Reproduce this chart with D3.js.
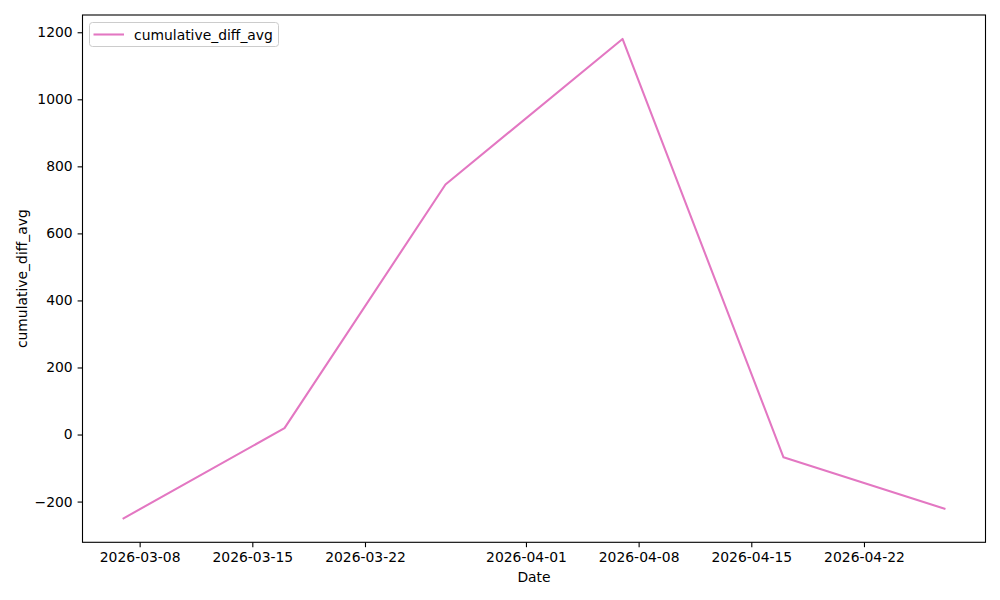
<!DOCTYPE html>
<html><head><meta charset="utf-8">
<script src="https://cdn.jsdelivr.net/npm/d3@7"></script>
<style>body{margin:0;background:#fff}svg{display:block}text{font-family:"DejaVu Sans",sans-serif}</style>
</head><body>
<svg id="c" width="1000" height="600"></svg>
<script>
const dates = ["2026-03-07","2026-03-17","2026-03-27","2026-04-07","2026-04-17","2026-04-27"];
const values = [-250, 19, 746, 1180, -68, -221];
const xTickLabels = ["2026-03-08","2026-03-15","2026-03-22","2026-04-01","2026-04-08","2026-04-15","2026-04-22"];
const yTicks = [-200, 0, 200, 400, 600, 800, 1000, 1200];
const seriesName = "cumulative_diff_avg";

const parse = d3.utcParse("%Y-%m-%d");
const data = dates.map((d,i)=>({x:parse(d), y:values[i]}));
const svg = d3.select("#c");
const L=82.5, R=985.5, T=15, B=542.3;
const fs = 13.9;

const xExt = d3.extent(data, d=>d.x);
const xs = (xExt[1]-xExt[0]);
const x = d3.scaleUtc().domain([new Date(+xExt[0]-0.05*xs), new Date(+xExt[1]+0.05*xs)]).range([L,R]);
const yExt = d3.extent(values);
const ys = yExt[1]-yExt[0];
const y = d3.scaleLinear().domain([yExt[0]-0.05*ys, yExt[1]+0.05*ys]).range([B,T]);

const xAxis = d3.axisBottom(x).tickValues(xTickLabels.map(parse)).tickFormat(d3.utcFormat("%Y-%m-%d")).tickSizeInner(4.9).tickSizeOuter(0).tickPadding(4.9);
const gx = svg.append("g").attr("transform",`translate(0,${B})`).call(xAxis);
const yAxis = d3.axisLeft(y).tickValues(yTicks).tickFormat(d=>d<0?"\u2212"+Math.abs(d):d).tickSizeInner(4.9).tickSizeOuter(0).tickPadding(4.9);
const gy = svg.append("g").attr("transform",`translate(${L},0)`).call(yAxis);
[gx,gy].forEach(g=>{
  g.select(".domain").remove();
  g.selectAll("line").attr("stroke","#000").attr("stroke-width",1.1);
  g.selectAll("text").attr("font-size",fs).attr("fill","#000").attr("font-family","DejaVu Sans");
});

svg.append("path").datum(data)
  .attr("d", d3.line().x(d=>x(d.x)).y(d=>y(d.y)))
  .attr("fill","none").attr("stroke","#e377c2").attr("stroke-width",2.08).attr("stroke-linejoin","round").attr("stroke-linecap","square");

svg.append("rect").attr("x",L).attr("y",T).attr("width",R-L).attr("height",B-T)
  .attr("fill","none").attr("stroke","#000").attr("stroke-width",1.1);

svg.append("text").attr("x",(L+R)/2).attr("y",582).attr("text-anchor","middle").attr("font-size",fs).text("Date");
svg.append("text").attr("transform",`translate(27,${(T+B)/2}) rotate(-90)`).attr("text-anchor","middle").attr("font-size",fs).text(seriesName);

const lg = svg.append("g");
lg.append("rect").attr("x",89.5).attr("y",22.5).attr("width",189).attr("height",24).attr("rx",3)
  .attr("fill","#fff").attr("fill-opacity",0.8).attr("stroke","#ccc").attr("stroke-width",1);
lg.append("line").attr("x1",93.5).attr("x2",124).attr("y1",34.5).attr("y2",34.5).attr("stroke","#e377c2").attr("stroke-width",2.08);
lg.append("text").attr("x",134).attr("y",39.5).attr("font-size",fs).text(seriesName);
</script>
</body></html>
